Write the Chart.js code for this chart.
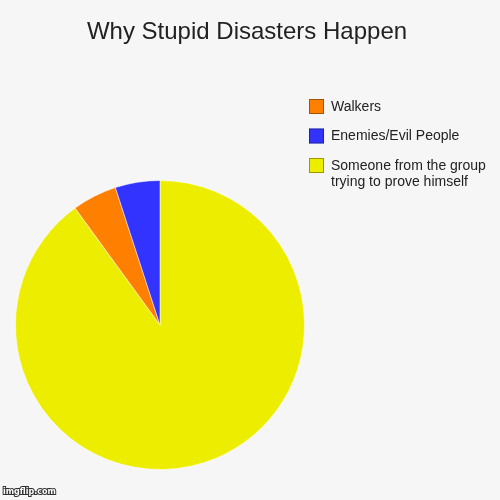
<!DOCTYPE html>
<html>
<head>
<meta charset="utf-8">
<script src="https://cdn.jsdelivr.net/npm/chart.js@4"></script>
<style>
  html, body { margin: 0; padding: 0; background: #f6f6f6; }
  #wrap { width: 500px; height: 500px; }
</style>
</head>
<body>
<div id="wrap"><canvas id="pie" width="500" height="500"></canvas></div>
<script>
const chartTitle = 'Why Stupid Disasters Happen';
const categories = ['Someone from the group trying to prove himself', 'Walkers', 'Enemies/Evil People'];
const values = [90, 5, 5];
const colors = ['#eded00', '#ff8000', '#3333ff'];
// legend lines as shown in the picture (top to bottom)
const legendLines = [['Walkers'], ['Enemies/Evil People'], ['Someone from the group', 'trying to prove himself']];
const legendOrder = [1, 2, 0];

// title, legend and watermark drawn on top
const decor = {
  id: 'decor',
  afterDraw(chart) {
    const ctx = chart.ctx;
    const ds = chart.data.datasets[0];
    ctx.save();
    ctx.fillStyle = '#222';
    ctx.font = '24px "Liberation Sans", Arial, sans-serif';
    ctx.textAlign = 'center';
    ctx.textBaseline = 'middle';
    ctx.fillText(chartTitle, 247, 32);

    ctx.textAlign = 'left';
    ctx.font = '14px "Liberation Sans", Arial, sans-serif';
    legendOrder.forEach((idx, i) => {
      const y = 99 + i * 29.5;
      ctx.fillStyle = ds.backgroundColor[idx];
      ctx.fillRect(309, y, 15, 15);
      ctx.strokeStyle = 'rgba(0,0,0,0.35)';
      ctx.lineWidth = 1;
      ctx.strokeRect(309.5, y + 0.5, 14, 14);
      ctx.fillStyle = '#222';
      legendLines[i].forEach((line, j) => {
        ctx.fillText(line, 331, y + 8 + j * 16);
      });
    });

    ctx.font = 'bold 8px "DejaVu Sans", sans-serif';
    ctx.lineWidth = 2;
    ctx.strokeStyle = '#333';
    ctx.strokeText('imgflip.com', 3, 492);
    ctx.fillStyle = '#fff';
    ctx.fillText('imgflip.com', 3, 492);
    ctx.restore();
  }
};

new Chart(document.getElementById('pie'), {
  type: 'pie',
  data: {
    labels: categories,
    datasets: [{
      data: values,
      backgroundColor: colors,
      borderColor: 'rgba(255,255,255,0.5)',
      borderWidth: 1
    }]
  },
  options: {
    responsive: false,
    animation: false,
    layout: { padding: { left: 15, right: 195, top: 180, bottom: 30 } },
    plugins: {
      legend: { display: false },
      tooltip: { enabled: false }
    }
  },
  plugins: [decor]
});
</script>
</body>
</html>
